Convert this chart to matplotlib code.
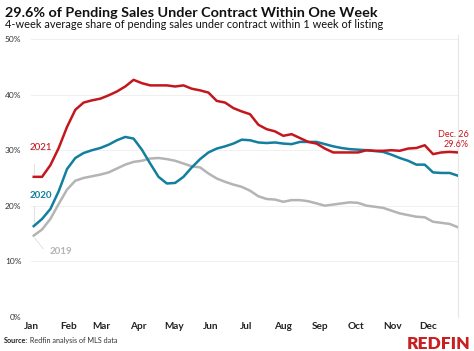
import matplotlib
matplotlib.use("Agg")
import matplotlib.pyplot as plt
import matplotlib.dates as mdates
import pandas as pd

# ---- data -------------------------------------------------------------
weeks = pd.date_range("2021-01-03", "2021-12-26", freq="7D")

share_2021 = [25.2, 25.2, 27.3, 30.4, 34.2, 37.3, 38.6, 39.0, 39.3, 39.9,
              40.6, 41.5, 42.7, 42.1, 41.7, 41.7, 41.7, 41.5, 41.7, 41.1,
              40.8, 40.4, 38.9, 38.6, 37.6, 37.0, 36.5, 34.6, 33.8, 33.4,
              32.6, 32.9, 32.2, 31.5, 31.2, 30.3, 29.6, 29.6, 29.6, 29.6,
              30.0, 29.9, 29.9, 30.0, 29.9, 30.3, 30.4, 30.9, 29.3, 29.6,
              29.7, 29.6]
share_2020 = [16.3, 17.6, 19.4, 22.6, 26.6, 28.6, 29.5, 30.0, 30.4, 31.0,
              31.8, 32.4, 32.1, 30.1, 27.6, 25.2, 24.0, 24.1, 25.2, 26.9,
              28.4, 29.6, 30.3, 30.7, 31.2, 31.9, 31.8, 31.4, 31.3, 31.4,
              31.2, 31.1, 31.5, 31.5, 31.5, 31.1, 30.7, 30.4, 30.2, 30.1,
              30.0, 29.85, 29.7, 29.2, 28.6, 28.1, 27.4, 27.4, 26.0, 25.9,
              25.9, 25.4]
share_2019 = [14.6, 15.7, 17.6, 20.3, 22.9, 24.5, 25.0, 25.3, 25.6, 26.0,
              26.7, 27.4, 27.9, 28.1, 28.5, 28.6, 28.4, 28.1, 27.6, 27.1,
              26.9, 25.8, 24.9, 24.3, 23.8, 23.4, 22.7, 21.7, 21.2, 21.1,
              20.7, 21.0, 21.0, 20.8, 20.4, 20.0, 20.2, 20.4, 20.6, 20.5,
              20.0, 19.8, 19.6, 19.1, 18.6, 18.3, 18.0, 17.9, 17.1, 16.9,
              16.7, 16.1]

month_labels = ["Jan", "Feb", "Mar", "Apr", "May", "Jun",
                "Jul", "Aug", "Sep", "Oct", "Nov", "Dec"]
month_starts = pd.date_range("2021-01-01", "2021-12-01", freq="MS")
y_ticks = [0, 10, 20, 30, 40, 50]

title = "29.6% of Pending Sales Under Contract Within One Week"
subtitle = "4-week average share of pending sales under contract within 1 week of listing"
source_bold = "Source:"
source_text = " Redfin analysis of MLS data"
end_label = "Dec. 26"
end_value = "29.6%"

RED = "#c4171d"
TEAL = "#127f9e"
GRAY = "#b4b4b4"
FONT = "Lato"

# ---- figure ------------------------------------------------------------
W, H = 474, 351
fig = plt.figure(figsize=(W / 100, H / 100), dpi=100)
fig.patch.set_facecolor("white")


def fx(px):
    return px / W


def fy(py):
    return 1 - py / H


ax = fig.add_axes([fx(31), fy(316.5), fx(458) - fx(31), fy(35.5) - fy(316.5)])

ax.plot(weeks, share_2019, color=GRAY, lw=1.8, zorder=3)
ax.plot(weeks, share_2020, color=TEAL, lw=1.8, zorder=4)
ax.plot(weeks, share_2021, color=RED, lw=1.8, zorder=5)

first = mdates.date2num(weeks[0])
x1 = mdates.date2num(weeks[-1])
ax.set_xlim(first - 2.3, x1)
ax.set_ylim(0, 50.7)

ax.set_yticks(y_ticks)
ax.set_yticklabels([f"{v}%" for v in y_ticks], fontsize=6, color="#333333",
                   family=FONT)
ax.set_xticks(month_starts)
ax.set_xticklabels(month_labels, fontsize=7.2, color="#222222",
                   family=FONT, fontweight="bold")
ax.tick_params(axis="both", length=0)
ax.tick_params(axis="y", pad=7)
ax.tick_params(axis="x", pad=4)

for s in ["top", "left", "bottom"]:
    ax.spines[s].set_visible(False)
ax.spines["right"].set_color("#e6e6e6")
ax.spines["right"].set_linewidth(0.8)
ax.grid(axis="y", color="#f0f0f0", lw=0.7)
ax.set_axisbelow(True)

# leader lines (light)
ax.plot([first, first], [share_2021[0] + 0.5, 27.6], color="#dddddd", lw=0.6)
ax.plot([first, first], [share_2020[0] + 0.5, 20.0], color="#dddddd", lw=0.6)
ax.plot([first + 1, first + 8], [share_2019[0] - 0.5, 12.2],
        color="#dddddd", lw=0.6)

# series labels
fig.text(fx(30), fy(148), "2021", fontsize=7, color=RED, family=FONT,
         ha="left", va="center", fontweight="medium")
fig.text(fx(30), fy(195.5), "2020", fontsize=7, color=TEAL, family=FONT,
         ha="left", va="center", fontweight="bold")
fig.text(fx(50), fy(251), "2019", fontsize=7, color=GRAY, family=FONT,
         ha="left", va="center", fontweight="bold")

fig.text(fx(469), fy(134.5), end_label, fontsize=6.5, color=RED,
         family=FONT, ha="right", va="center")
fig.text(fx(469), fy(144.5), end_value, fontsize=6.5, color=RED,
         family=FONT, ha="right", va="center")

# titles
fig.text(fx(5), fy(17), title, fontsize=10.4, fontweight="bold",
         color="#111111", family=FONT, ha="left", va="baseline")
fig.text(fx(5), fy(27.5), subtitle, fontsize=7.9, color="#111111",
         family=FONT, ha="left", va="baseline")

# source + logo
t = fig.text(fx(4), fy(343), source_bold, fontsize=5.2, fontweight="bold",
             color="#222222", family=FONT, ha="left", va="baseline")
fig.canvas.draw()
bb = t.get_window_extent()
fig.text(bb.x1 / W, fy(343), source_text, fontsize=5.2, color="#333333",
         family=FONT, ha="left", va="baseline")
fig.text(fx(470), fy(349), "REDFIN", fontsize=12.5, fontweight="heavy",
         color="#c82021", family=FONT, ha="right", va="baseline")

fig.savefig("out.png", dpi=100, facecolor="white")
